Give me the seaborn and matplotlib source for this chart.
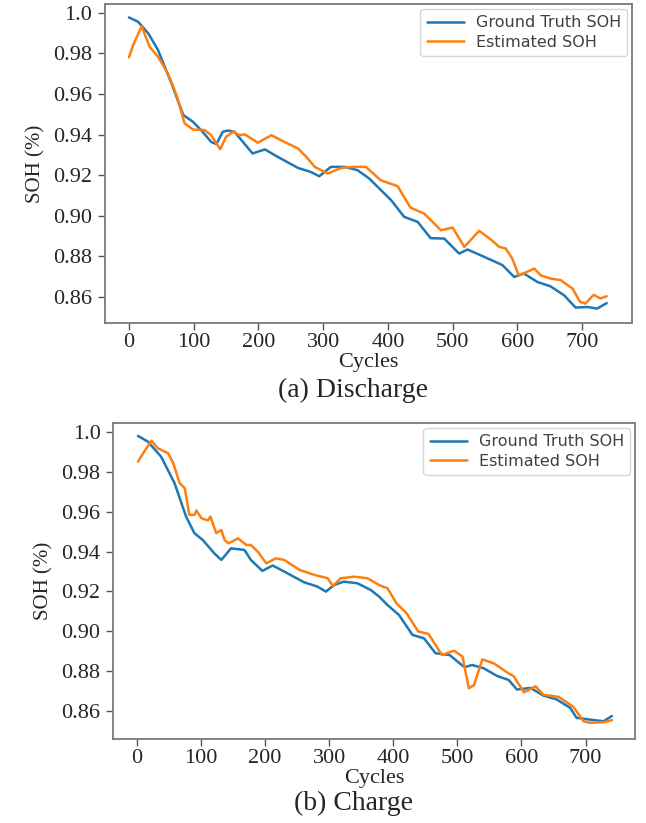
import matplotlib
matplotlib.use("Agg")
import matplotlib.pyplot as plt
import pandas as pd
import seaborn as sns

# values
# (a) discharge
dis_true_x = [0, 14, 30, 45, 66, 84, 99, 112, 127, 135, 145, 153, 163, 191, 210, 230, 261,
              281, 294, 312, 333, 353, 371, 384, 405, 425, 446, 466, 487, 510, 523, 543,
              564, 577, 595, 610, 631, 651, 672, 690, 708, 723, 738]
dis_true_y = [0.9977, 0.9956, 0.9898, 0.9816, 0.965, 0.9496, 0.9463, 0.942, 0.9364, 0.9353,
              0.9414, 0.942, 0.9414, 0.9307, 0.9327, 0.929, 0.9236, 0.9216, 0.9195, 0.9241,
              0.9241, 0.9225, 0.9184, 0.9143, 0.9077, 0.8995, 0.897, 0.889, 0.8888, 0.8814,
              0.8834, 0.8806, 0.8776, 0.8757, 0.8699, 0.8716, 0.8674, 0.8653, 0.8609, 0.8548,
              0.8551, 0.8543, 0.857]
dis_est_x = [0, 6.5, 19.6, 32, 45, 60.5, 73.5, 86, 99, 117, 127, 141, 150, 161, 171, 179,
             199, 220, 240, 261, 274, 287, 307, 328, 348, 366, 389, 415, 435, 456, 482, 500,
             518, 541, 559, 572, 582, 592, 602, 615, 626, 636, 651, 667, 685, 697, 705, 718,
             728, 738]
dis_est_y = [0.978, 0.984, 0.9934, 0.9832, 0.9783, 0.970, 0.9594, 0.9455, 0.9425, 0.9422,
             0.9397, 0.9328, 0.9389, 0.9414, 0.9397, 0.9401, 0.936, 0.9397, 0.9364, 0.9332,
             0.929, 0.9241, 0.9208, 0.9236, 0.9241, 0.9241, 0.9175, 0.9146, 0.904, 0.9011,
             0.8929, 0.8942, 0.8847, 0.8926, 0.8883, 0.8847, 0.8839, 0.879, 0.8707, 0.8724,
             0.874, 0.8707, 0.8691, 0.8683, 0.8642, 0.8576, 0.8568, 0.8611, 0.8593, 0.8604]

# (b) charge
chg_true_x = [2, 17.6, 38, 59, 77, 90, 103, 121, 132, 147, 168, 178, 196, 212, 235, 261,
              282, 295, 308, 323, 344, 365, 378, 391, 409, 430, 448, 466, 488, 511, 523,
              541, 562, 580, 593, 614, 634, 655, 676, 686, 707, 728, 741]
chg_true_y = [0.998, 0.9951, 0.9876, 0.9743, 0.9575, 0.9492, 0.9458, 0.9391, 0.9358, 0.9416,
              0.9408, 0.9358, 0.9303, 0.933, 0.9291, 0.9246, 0.9224, 0.9199, 0.9232, 0.9249,
              0.9241, 0.9207, 0.9174, 0.9132, 0.9082, 0.8982, 0.8965, 0.889, 0.8881, 0.882,
              0.8831, 0.8815, 0.8776, 0.8756, 0.8708, 0.8716, 0.8678, 0.8658, 0.8616, 0.8566,
              0.8557, 0.8549, 0.8575]
chg_est_x = [2, 10, 23, 33, 49, 57, 67, 75, 82, 90, 93, 101, 111, 115, 124, 132, 137, 143,
             158, 171, 178, 189, 202, 217, 230, 254, 277, 298, 306, 318, 339, 360, 378, 391,
             405, 421, 439, 455, 476, 495, 508, 518, 526, 539, 557, 580, 588, 604, 622, 634,
             658, 681, 697, 707, 728, 741]
chg_est_y = [0.9851, 0.9893, 0.9956, 0.9918, 0.9893, 0.9843, 0.9743, 0.9717, 0.9584, 0.9584,
             0.9606, 0.9567, 0.9556, 0.9575, 0.9492, 0.9508, 0.9458, 0.9441, 0.9466, 0.9433,
             0.9433, 0.9399, 0.9341, 0.9366, 0.9358, 0.9308, 0.9283, 0.9266, 0.9227, 0.9266,
             0.9274, 0.9266, 0.9232, 0.9216, 0.9141, 0.909, 0.8999, 0.8987, 0.8881, 0.8903,
             0.8873, 0.8714, 0.873, 0.8859, 0.8839, 0.8789, 0.8774, 0.8694, 0.8724, 0.8682,
             0.8671, 0.8621, 0.8548, 0.8541, 0.8544, 0.8554]

series_names = ["Ground Truth SOH", "Estimated SOH"]
y_ticks = [0.86, 0.88, 0.90, 0.92, 0.94, 0.96, 0.98, 1.0]
y_tick_labels = ["0.86", "0.88", "0.90", "0.92", "0.94", "0.96", "0.98", "1.0"]
x_ticks = [0, 100, 200, 300, 400, 500, 600, 700]
captions = ["(a) Discharge", "(b) Charge"]

sns.set_theme(style="white")
plt.rcParams["font.family"] = ["Liberation Serif", "DejaVu Serif"]

def make_df(tx, ty, ex, ey):
    d1 = pd.DataFrame({"cycle": tx, "soh": ty, "kind": series_names[0]})
    d2 = pd.DataFrame({"cycle": ex, "soh": ey, "kind": series_names[1]})
    return pd.concat([d1, d2], ignore_index=True)

frames = [make_df(dis_true_x, dis_true_y, dis_est_x, dis_est_y),
          make_df(chg_true_x, chg_true_y, chg_est_x, chg_est_y)]

fig = plt.figure(figsize=(6.46, 8.23), dpi=100)
ax_boxes = [[0.1625, 0.6075, 0.8158, 0.3876], [0.1749, 0.1021, 0.808, 0.384]]
ylims = [(0.8472, 1.0043), (0.846, 1.0045)]
caption_y = [0.526, 0.024]

for i in range(2):
    ax = fig.add_axes(ax_boxes[i])
    sns.lineplot(data=frames[i], x="cycle", y="soh", hue="kind", ax=ax,
                 palette=["#1f77b4", "#ff7f0e"], linewidth=1.8, sort=False,
                 estimator=None)
    ax.set_xlim(-37, 777)
    ax.set_ylim(*ylims[i])
    ax.set_xticks(x_ticks)
    ax.set_yticks(y_ticks)
    ax.set_yticklabels(y_tick_labels)
    ax.tick_params(axis="both", labelsize=16, direction="out", length=5, width=1,
                   color="#555555", left=True, bottom=True)
    ax.tick_params(axis="x", pad=2)
    ax.tick_params(axis="y", pad=4)
    for s in ax.spines.values():
        s.set_color("#7a7a7a")
        s.set_linewidth(1.3)
    ax.set_xlabel("Cycles", fontsize=16, labelpad=1)
    ax.set_ylabel("SOH (%)", fontsize=15, labelpad=6)
    handles, labels = ax.get_legend_handles_labels()
    leg = ax.legend(handles, labels, loc="upper right",
                    prop={"family": "DejaVu Sans", "size": 11.5},
                    handlelength=2.3, handletextpad=0.75, borderaxespad=0.3,
                    frameon=True, fancybox=True, framealpha=0.8,
                    edgecolor="#cccccc", labelspacing=0.3)
    for t in leg.get_texts():
        t.set_color("#404040")
    fig.text(0.547, caption_y[i], captions[i], fontsize=20, ha="center", va="center")

fig.savefig("out.png", dpi=100, facecolor="white")
